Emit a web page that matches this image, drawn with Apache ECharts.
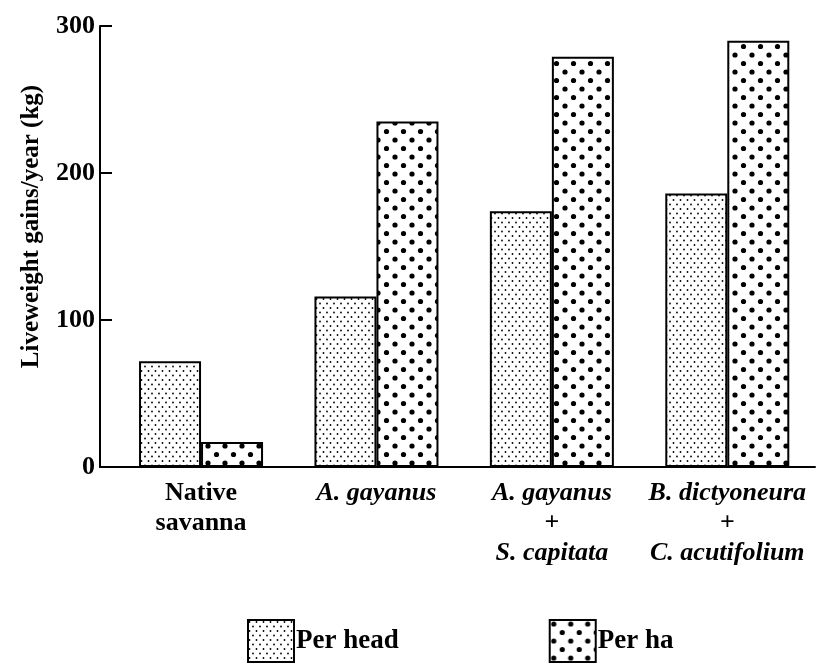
<!DOCTYPE html>
<html>
<head>
<meta charset="utf-8">
<script src="https://cdn.jsdelivr.net/npm/echarts@6/dist/echarts.min.js"></script>
<style>html,body{margin:0;padding:0;background:#fff}#c{width:821px;height:664px}</style>
</head>
<body>
<div id="c"></div>
<script>
var categories = ['Native savanna', 'A. gayanus', 'A. gayanus + S. capitata', 'B. dictyoneura + C. acutifolium'];
var perHead = [72, 116, 174, 186];
var perHa = [17, 235, 279, 290];
var yTicks = [0, 100, 200, 300];
var seriesNames = ['Per head', 'Per ha'];

function makePattern(w, h, dots, r) {
  var c = document.createElement('canvas');
  c.width = w; c.height = h;
  var g = c.getContext('2d');
  g.fillStyle = '#fff'; g.fillRect(0, 0, w, h);
  g.fillStyle = '#000';
  dots.forEach(function (d) { g.beginPath(); g.arc(d[0], d[1], r, 0, Math.PI * 2); g.fill(); });
  return c;
}
var smallDots = makePattern(7, 9, [[1.5, 2], [5, 6.5]], 0.9);
var bigDots = makePattern(17, 17, [[4, 4], [12.5, 12.5]], 2.6);

var serif = '"Liberation Serif", "DejaVu Serif", serif';
var labelFmt = {
  0: '{n|Native}\n{n|savanna}',
  1: '{i|A. gayanus}',
  2: '{i|A. gayanus}\n{n|+}\n{i|S. capitata}',
  3: '{i|B. dictyoneura}\n{n|+}\n{i|C. acutifolium}'
};
var xIdx = categories.map(function (c, i) { return i; });

var chart = echarts.init(document.getElementById('c'), null, {renderer: 'canvas'});
chart.setOption({
  animation: false,
  backgroundColor: '#fff',
  grid: {left: 100, right: 6, top: 26, bottom: 197, containLabel: false},
  xAxis: {
    type: 'value', min: -0.576, max: 3.5,
    splitLine: {show: false},
    axisLine: {show: true, onZero: false, lineStyle: {color: '#000', width: 2}},
    axisTick: {show: false},
    axisLabel: {
      customValues: xIdx, margin: 11, color: '#000', lineHeight: 30,
      formatter: function (v) { return labelFmt[Math.round(v)] || ''; },
      rich: {
        n: {fontFamily: serif, fontWeight: 'bold', fontSize: 26, color: '#000', lineHeight: 30},
        i: {fontFamily: serif, fontWeight: 'bold', fontStyle: 'italic', fontSize: 26, color: '#000', lineHeight: 30}
      }
    }
  },
  yAxis: {
    type: 'value', min: 0, max: 300, interval: 100,
    splitLine: {show: false},
    axisLine: {show: true, onZero: false, lineStyle: {color: '#000', width: 2}},
    axisTick: {show: true, inside: true, length: 12, lineStyle: {color: '#000', width: 2}},
    axisLabel: {color: '#000', fontFamily: serif, fontWeight: 'bold', fontSize: 26, margin: 5,
      customValues: yTicks},
    name: 'Liveweight gains/year (kg)', nameLocation: 'middle', nameGap: 56,
    nameTextStyle: {color: '#000', fontFamily: serif, fontWeight: 'bold', fontSize: 25, padding: [0, 0, 0, 40]}
  },
  legend: {
    left: 247, top: 619, padding: 0, itemWidth: 46, itemHeight: 42, itemGap: 150,
    icon: 'rect',
    textStyle: {color: '#000', fontFamily: serif, fontWeight: 'bold', fontSize: 27, padding: [8, 0, 0, -3]},
    data: seriesNames
  },
  series: [
    {
      name: seriesNames[0], type: 'bar', barWidth: 62, barGap: '0%',
      data: perHead.map(function (v, i) { return [xIdx[i], v]; }),
      itemStyle: {color: {image: smallDots, repeat: 'repeat'}, borderColor: '#000', borderWidth: 2}
    },
    {
      name: seriesNames[1], type: 'bar', barWidth: 62, barGap: '0%',
      data: perHa.map(function (v, i) { return [xIdx[i], v]; }),
      itemStyle: {color: {image: bigDots, repeat: 'repeat'}, borderColor: '#000', borderWidth: 2}
    }
  ]
});
</script>
</body>
</html>
